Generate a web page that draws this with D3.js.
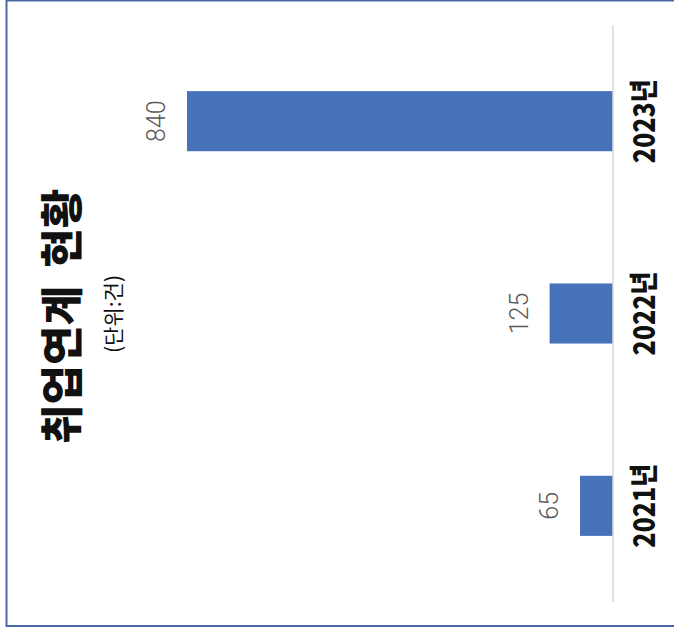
<!DOCTYPE html>
<html>
<head>
<meta charset="utf-8">
<script src="https://cdn.jsdelivr.net/npm/d3@7/dist/d3.min.js"></script>
<style>
  html, body { margin: 0; padding: 0; background: #fff; }
  svg { display: block; }
</style>
</head>
<body>
<script>
// Data
const categories = ["2021년", "2022년", "2023년"];
const values = [65, 125, 840];
const titleMain = "취업연계";
const titleSub = "현황";
const unitLabel = "(단위:건)";

const W = 674, H = 632;
const svg = d3.select("body").append("svg").attr("width", W).attr("height", H);

// Frame
svg.append("rect")
  .attr("x", 6.5).attr("y", 0.5).attr("width", 700).attr("height", 625.5)
  .attr("fill", "#fff").attr("stroke", "#4a6aa6").attr("stroke-width", 2);

// Chart is rotated: categories along y (2021 at bottom), values extend leftwards.
const baseX = 613;
const y = d3.scaleBand().domain(categories).range([602, 25])
  .paddingInner(0.6875).paddingOuter(0.34375);
const x = d3.scaleLinear().domain([0, 840]).range([baseX, 187]);

// Bars
svg.append("g").selectAll("rect").data(values).join("rect")
  .attr("x", d => x(d))
  .attr("y", (d, i) => y(categories[i]))
  .attr("width", d => x(0) - x(d))
  .attr("height", y.bandwidth())
  .attr("fill", "#4672ba");

// Category axis line
svg.append("line")
  .attr("x1", baseX).attr("x2", baseX)
  .attr("y1", y.range()[1]).attr("y2", y.range()[0])
  .attr("stroke", "#d9d9d9").attr("stroke-width", 1.5);

// Value labels
svg.append("g").selectAll("text").data(values).join("text")
  .attr("transform", (d, i) => `translate(${x(d) - 22},${y(categories[i]) + y.bandwidth() / 2}) rotate(-90)`)
  .attr("text-anchor", "middle")
  .attr("font-family", "Roboto, 'Liberation Sans', sans-serif")
  .attr("font-weight", 300)
  .attr("font-size", 25)
  .attr("fill", "#595959")
  .text(d => d);

// Category labels
svg.append("g").selectAll("text").data(categories).join("text")
  .attr("transform", d => `translate(655,${y(d) + y.bandwidth() / 2}) rotate(-90)`)
  .attr("text-anchor", "middle")
  .attr("font-family", "'Noto Sans CJK KR', sans-serif")
  .attr("font-weight", 900)
  .attr("font-size", 29)
  .attr("textLength", 84)
  .attr("lengthAdjust", "spacingAndGlyphs")
  .attr("fill", "#111")
  .text(d => d);

// Title
const t = svg.append("text")
  .attr("transform", "translate(78,444) rotate(-90)")
  .attr("text-anchor", "start")
  .attr("font-family", "'Noto Sans CJK KR', sans-serif")
  .attr("font-weight", 900)
  .attr("font-size", 43)
  .attr("fill", "#111");
t.append("tspan").text(titleMain);
t.append("tspan").attr("dx", 18).text(titleSub);

// Unit
svg.append("text")
  .attr("transform", "translate(121,314) rotate(-90)")
  .attr("text-anchor", "middle")
  .attr("font-family", "'Noto Sans CJK KR', sans-serif")
  .attr("font-size", 21)
  .attr("fill", "#111")
  .text(unitLabel);
</script>
</body>
</html>
